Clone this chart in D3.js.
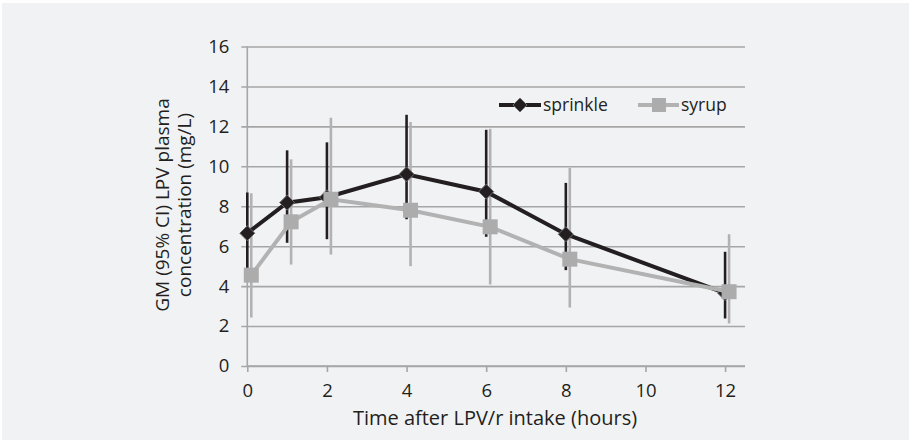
<!DOCTYPE html>
<html><head><meta charset="utf-8">
<script src="https://cdn.jsdelivr.net/npm/d3@7"></script>
<style>
html,body{margin:0;padding:0;background:#fff;}
svg{display:block;}
text{font-family:"Open Sans","Noto Sans",sans-serif;fill:#231f20;}
</style></head>
<body>
<svg id="chart" width="909" height="440"></svg>
<script>
// ---- data ----
const times = [0, 1, 2, 4, 6, 8, 12];
const sprinkleGM = [6.65, 8.18, 8.45, 9.6, 8.73, 6.6, 3.65];
const sprinkleLow = [4.9, 6.17, 6.35, 7.35, 6.47, 4.8, 2.38];
const sprinkleHigh = [8.69, 10.8, 11.2, 12.58, 11.83, 9.17, 5.72];
const syrupGM = [4.55, 7.22, 8.35, 7.8, 6.97, 5.35, 3.72];
const syrupLow = [2.43, 5.08, 5.58, 5.0, 4.08, 2.93, 2.13];
const syrupHigh = [8.65, 10.35, 12.43, 12.22, 11.88, 9.92, 6.6];
const xTicks = [0, 2, 4, 6, 8, 10, 12];
const yTicks = [0, 2, 4, 6, 8, 10, 12, 14, 16];
const seriesNames = ["sprinkle", "syrup"];
const xTitle = "Time after LPV/r intake (hours)";
const yTitleLines = ["GM (95% CI) LPV plasma", "concentration (mg/L)"];

const svg = d3.select("#chart");
svg.append("rect").attr("x", 2).attr("y", 3).attr("width", 907).attr("height", 437).attr("fill", "#f1f2f4");

const x = d3.scaleLinear().domain([0, 12.5]).range([247.3, 745]);
const y = d3.scaleLinear().domain([0, 16]).range([366, 46.5]);
const syrupOffset = 0.1;

const black = "#231f20", gray = "#b2b2b2", grid = "#a6a6a6";

// gridlines + y axis ticks
const yAxis = d3.axisLeft(y).tickValues(yTicks).tickSize(x.range()[1] - x.range()[0] + 6).tickPadding(12);
const gy = svg.append("g").attr("transform", `translate(${x.range()[1]},0)`).call(yAxis);
gy.select(".domain").remove();
gy.selectAll(".tick line").attr("stroke", grid).attr("stroke-width", 1.6);
gy.selectAll(".tick text").attr("font-size", 18.5).attr("fill", black).style("font-family", '"Open Sans",sans-serif');

// vertical axis line at x=0
svg.append("line").attr("x1", x(0)).attr("x2", x(0)).attr("y1", y(16)).attr("y2", y(0)).attr("stroke", grid).attr("stroke-width", 1.6);

// x axis
const xAxis = d3.axisBottom(x).tickValues(xTicks).tickSize(6).tickPadding(12).tickSizeOuter(0);
const gx = svg.append("g").attr("transform", `translate(0,${y(0)})`).call(xAxis);
gx.select(".domain").attr("stroke", grid).attr("stroke-width", 1.6).attr("d", `M${x(0)},0H${x.range()[1]}`);
gx.selectAll(".tick line").attr("stroke", grid).attr("stroke-width", 1.6);
gx.selectAll(".tick text").attr("font-size", 18.5).attr("fill", black).style("font-family", '"Open Sans",sans-serif');

// titles
svg.append("text").attr("x", 495).attr("y", 425).attr("text-anchor", "middle").attr("font-size", 20).text(xTitle);
const yt = svg.append("text").attr("transform", "translate(169,205) rotate(-90)").attr("text-anchor", "middle").attr("font-size", 19);
yTitleLines.forEach((l, i) => yt.append("tspan").attr("x", 0).attr("dy", i === 0 ? 0 : 22).text(l));

// error bars: syrup first (behind), sprinkle
function errBars(xs, lo, hi, color, off) {
  svg.append("g").selectAll("line").data(xs).join("line")
    .attr("x1", (d) => x(d + off)).attr("x2", (d) => x(d + off))
    .attr("y1", (d, i) => y(lo[i])).attr("y2", (d, i) => y(hi[i]))
    .attr("stroke", color).attr("stroke-width", 2.6);
}
errBars(times, syrupLow, syrupHigh, gray, syrupOffset);
errBars(times, sprinkleLow, sprinkleHigh, black, 0);

const line = d3.line().x((d) => x(d[0])).y((d) => y(d[1]));
// sprinkle line + markers
svg.append("path").datum(times.map((t, i) => [t, sprinkleGM[i]]))
  .attr("d", line).attr("fill", "none").attr("stroke", black).attr("stroke-width", 4);
const diamond = (cx, cy, r) => `M${cx},${cy - r}L${cx + r},${cy}L${cx},${cy + r}L${cx - r},${cy}Z`;
svg.append("g").selectAll("path").data(times).join("path")
  .attr("d", (d, i) => diamond(x(d), y(sprinkleGM[i]), 7.5))
  .attr("fill", black).attr("stroke", "#6e6a6b").attr("stroke-width", 1);

// syrup line + markers
svg.append("path").datum(times.map((t, i) => [t + syrupOffset, syrupGM[i]]))
  .attr("d", line).attr("fill", "none").attr("stroke", gray).attr("stroke-width", 4);
svg.append("g").selectAll("rect").data(times).join("rect")
  .attr("x", (d) => x(d + syrupOffset) - 7.5).attr("y", (d, i) => y(syrupGM[i]) - 7.5)
  .attr("width", 15).attr("height", 15).attr("fill", "#acacac");

// legend
const lg = svg.append("g");
lg.append("line").attr("x1", 499).attr("x2", 541).attr("y1", 105).attr("y2", 105).attr("stroke", black).attr("stroke-width", 4);
lg.append("path").attr("d", diamond(520, 105, 7)).attr("fill", black).attr("stroke", "#6e6a6b").attr("stroke-width", 1);
lg.append("text").attr("x", 543).attr("y", 111).attr("font-size", 17.5).text(seriesNames[0]);
lg.append("line").attr("x1", 638).attr("x2", 679).attr("y1", 105).attr("y2", 105).attr("stroke", gray).attr("stroke-width", 4);
lg.append("rect").attr("x", 652).attr("y", 98).attr("width", 14).attr("height", 14).attr("fill", "#acacac");
lg.append("text").attr("x", 681).attr("y", 111).attr("font-size", 17.5).text(seriesNames[1]);
</script>
</body></html>
